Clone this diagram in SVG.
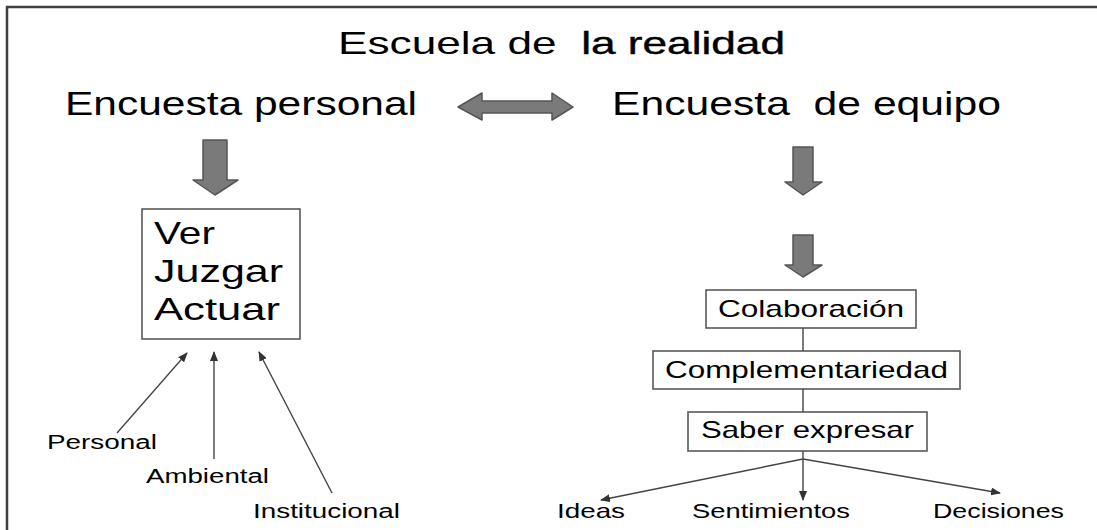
<svg xmlns="http://www.w3.org/2000/svg" width="1097" height="530" viewBox="0 0 1097 530">
<style>
.t{font-family:"Liberation Sans",Arial,sans-serif;fill:#000}
.box{fill:#fff;stroke:#595959;stroke-width:1.6}
.blk{fill:#7a7a7a;stroke:#555;stroke-width:1.5;stroke-linejoin:round}
.thin{fill:none;stroke:#444;stroke-width:1.4}
</style>
<defs>
<marker id="ah" markerWidth="10" markerHeight="8" refX="9" refY="4" orient="auto" markerUnits="userSpaceOnUse">
<path d="M0,0 L10,4 L0,8 Z" fill="#333"/>
</marker>
</defs>
<rect width="1097" height="530" fill="#fff"/>
<g id="frame">
<path d="M7,530 V7 H1097" fill="none" stroke="#404040" stroke-width="2.5"/>
</g>
<g id="title">
<text class="t" x="338" y="54" font-size="32" textLength="447" lengthAdjust="spacingAndGlyphs" xml:space="preserve">Escuela de  <tspan stroke="#000" stroke-width="0.4">la realidad</tspan></text>
</g>
<g id="encuesta-personal">
<text class="t" x="65" y="115" font-size="33" textLength="352" lengthAdjust="spacingAndGlyphs">Encuesta personal</text>
</g>
<g id="encuesta-equipo">
<text class="t" x="612" y="115" font-size="33" textLength="389" lengthAdjust="spacingAndGlyphs" xml:space="preserve">Encuesta  de equipo</text>
</g>
<g id="ver-juzgar-actuar">
<rect class="box" x="142" y="209" width="158" height="130"/>
<text class="t" x="154" y="244" font-size="32" textLength="61" lengthAdjust="spacingAndGlyphs">Ver</text>
<text class="t" x="154" y="282" font-size="32" textLength="129" lengthAdjust="spacingAndGlyphs">Juzgar</text>
<text class="t" x="154" y="320" font-size="32" textLength="126" lengthAdjust="spacingAndGlyphs">Actuar</text>
</g>
<g id="personal"><text class="t" x="47" y="449" font-size="20" textLength="110" lengthAdjust="spacingAndGlyphs">Personal</text></g>
<g id="ambiental"><text class="t" x="146" y="483" font-size="20" textLength="123" lengthAdjust="spacingAndGlyphs">Ambiental</text></g>
<g id="institucional"><text class="t" x="253" y="518" font-size="20" textLength="147" lengthAdjust="spacingAndGlyphs">Institucional</text></g>
<g id="colaboracion">
<rect class="box" x="706" y="290" width="210" height="38"/>
<text class="t" x="718" y="317" font-size="24" textLength="186" lengthAdjust="spacingAndGlyphs">Colaboración</text>
</g>
<g id="complementariedad">
<rect class="box" x="653" y="351" width="307" height="38"/>
<text class="t" x="665" y="378" font-size="24" textLength="283" lengthAdjust="spacingAndGlyphs">Complementariedad</text>
</g>
<g id="saber-expresar">
<rect class="box" x="688" y="412" width="239" height="39"/>
<text class="t" x="701" y="438" font-size="24" textLength="213" lengthAdjust="spacingAndGlyphs">Saber expresar</text>
</g>
<g id="ideas"><text class="t" x="557" y="518" font-size="21" textLength="68" lengthAdjust="spacingAndGlyphs">Ideas</text></g>
<g id="sentimientos"><text class="t" x="692" y="518" font-size="21" textLength="158" lengthAdjust="spacingAndGlyphs">Sentimientos</text></g>
<g id="decisiones"><text class="t" x="933" y="518" font-size="21" textLength="131" lengthAdjust="spacingAndGlyphs">Decisiones</text></g>
<g id="connectors">
<path class="blk" d="M458,107 L482,93 L482,101 L552,101 L552,93 L573,107 L552,120 L552,113 L482,113 L482,120 Z"/>
<path class="blk" d="M203,140 H227 V180 H238 L215,195 L193,180 H203 Z"/>
<path class="blk" d="M793,147 H813 V182 H822 L803,195 L785,182 H793 Z"/>
<path class="blk" d="M793,235 H813 V265 H822 L803,277 L785,265 H793 Z"/>
<line class="thin" x1="117" y1="433" x2="187" y2="353" marker-end="url(#ah)"/>
<line class="thin" x1="214" y1="459" x2="214" y2="352" marker-end="url(#ah)"/>
<line class="thin" x1="332" y1="493" x2="259" y2="352" marker-end="url(#ah)"/>
<line class="thin" x1="803" y1="328" x2="803" y2="351"/>
<line class="thin" x1="803" y1="389" x2="803" y2="412"/>
<line class="thin" x1="803" y1="451" x2="803" y2="459"/>
<line class="thin" x1="803" y1="459" x2="601" y2="500" marker-end="url(#ah)"/>
<line class="thin" x1="803" y1="459" x2="803" y2="500" marker-end="url(#ah)"/>
<line class="thin" x1="803" y1="459" x2="1000" y2="493" marker-end="url(#ah)"/>
</g>
</svg>
